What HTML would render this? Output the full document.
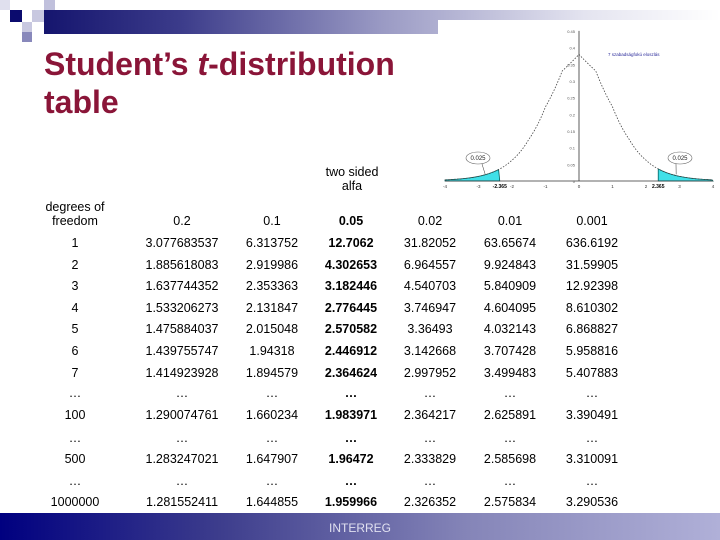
<!DOCTYPE html>
<html><head><meta charset="utf-8"><style>
body{margin:0;width:720px;height:540px;position:relative;overflow:hidden;background:#fff;font-family:"Liberation Sans",Arial,sans-serif}
.c{position:absolute;font-size:12.5px;line-height:14px;color:#000;transform:translate(-50%,-50%);white-space:nowrap;text-align:center}
.b{font-weight:bold}
.sq{position:absolute}
</style></head><body>
<div style="position:absolute;left:44px;top:10px;width:676px;height:24px;background:linear-gradient(90deg,#15156e 0%,#3b3b8a 20%,#9a9ac4 50%,#e4e4f0 80%,#fff 100%)"></div>
<div class="sq" style="left:10px;top:10px;width:12px;height:12px;background:#0b0b6e"></div>
<div class="sq" style="left:32px;top:10px;width:12px;height:12px;background:#c8c8e0"></div>
<div class="sq" style="left:44px;top:0px;width:11px;height:10px;background:#c0c0dc"></div>
<div class="sq" style="left:0px;top:0px;width:10px;height:10px;background:#e0e0ee"></div>
<div class="sq" style="left:22px;top:22px;width:10px;height:10px;background:#c8c8e0"></div>
<div class="sq" style="left:22px;top:32px;width:10px;height:10px;background:#8888bb"></div>
<div style="position:absolute;left:44px;top:45px;font-size:32px;font-weight:bold;color:#8a1538;line-height:38px">Student’s <i>t</i>-distribution<br>table</div>

<svg id="chart" style="position:absolute;left:0;top:0" width="720" height="540"></svg>

<div id="tbl"></div>
<div style="position:absolute;left:0;top:513px;width:720px;height:27px;background:linear-gradient(90deg,#000080 0%,#3c3c8c 30%,#8585b8 65%,#b0b0d8 100%)"></div>
<div style="position:absolute;left:329px;top:521px;font-size:12px;color:#e0e0f0">INTERREG</div>

<script>
const xs=[-4,-3.5,-3,-2.5,-2,-1.5,-1,-0.5,0,0.5,1,1.5,2,2.5,3,3.5,4];
const dens=[0.0033,0.0066,0.0139,0.0296,0.0623,0.1245,0.2225,0.330,0.3796,0.330,0.2225,0.1245,0.0623,0.0296,0.0139,0.0066,0.0033];
const crit=2.365;
const tailLabel="0.025";
const yTicks=[0,0.05,0.1,0.15,0.2,0.25,0.3,0.35,0.4,0.45];
const xTicks=[-4,-3,-2,-1,0,1,2,3,4];
const NS='http://www.w3.org/2000/svg';
const svg=document.getElementById('chart');
const X=v=>579+v*33.5, Y=v=>181-v*333.5;
function mk(t,a,p){const e=document.createElementNS(NS,t);for(const k in a)e.setAttribute(k,a[k]);(p||svg).appendChild(e);return e;}
const bg=mk('rect',{x:438,y:20,width:282,height:172,fill:'#fff'});


function interp(v){for(let i=0;i<xs.length-1;i++){if(v>=xs[i]&&v<=xs[i+1]){const t=(v-xs[i])/(xs[i+1]-xs[i]);return dens[i]*Math.pow(dens[i+1]/dens[i],t);}}return dens[dens.length-1];}
function tail(a,b){let d=`M${X(a)},${Y(0)}`;for(let v=a;v<=b+1e-9;v+=0.05)d+=` L${X(v)},${Y(interp(v))}`;d+=` L${X(b)},${Y(0)}Z`;return d;}
const lt=mk('path',{d:tail(-4,-crit),fill:'#40e0e8',stroke:'#006060','stroke-width':0.8});


const rt=mk('path',{d:tail(crit,4),fill:'#40e0e8',stroke:'#006060','stroke-width':0.8});


let d='';for(let v=-4;v<=4.0001;v+=0.05)d+=(d?' L':'M')+X(v)+','+Y(interp(v));
const cur=mk('path',{d:d,fill:'none',stroke:'#444','stroke-width':0.8,'stroke-dasharray':'1.5,1.5'});


const xa=mk('line',{x1:X(-4),x2:X(4),y1:Y(0),y2:Y(0),stroke:'#333','stroke-width':0.8});


const ya=mk('line',{x1:X(0),x2:X(0),y1:Y(0),y2:Y(0.45),stroke:'#333','stroke-width':0.8});


yTicks.forEach(v=>{const t=mk('text',{x:X(0)-4,y:Y(v)+2,'font-size':4,'text-anchor':'end',fill:'#555'});t.textContent=v;

});
xTicks.forEach(v=>{const t=mk('text',{x:X(v),y:Y(0)+7,'font-size':4.5,'text-anchor':'middle',fill:'#333'});t.textContent=v;

});
[-crit,crit].forEach(v=>{const t=mk('text',{x:X(v),y:Y(0)+7,'font-size':5,'text-anchor':'middle',fill:'#000','font-weight':'bold'});t.textContent=v<0?'-2.365':'2.365';

});
[[-3.2,478],[3.2,680]].forEach(p=>{const e=mk('ellipse',{cx:p[1],cy:158,rx:12,ry:6,fill:'#fff',stroke:'#666','stroke-width':0.6});


mk('line',{x1:p[1]+(p[0]<0?4:-4),y1:164,x2:X(p[0]<0?-2.8:2.9),y2:Y(0.02),stroke:'#333','stroke-width':0.5});
const t=mk('text',{x:p[1],y:160,'font-size':6,'text-anchor':'middle',fill:'#222'});t.textContent=tailLabel;

});
const ti=mk('text',{x:608,y:56,'font-size':4.5,fill:'#2a2a9a'});ti.textContent='7 szabadságfokú eloszlás';



const colX=[75,182,272,351,430,510,592];
const rowY=[243,265,286,308,329,351,373,393,415,438,459,481,502];
const rows=[
["1","3.077683537","6.313752","12.7062","31.82052","63.65674","636.6192"],
["2","1.885618083","2.919986","4.302653","6.964557","9.924843","31.59905"],
["3","1.637744352","2.353363","3.182446","4.540703","5.840909","12.92398"],
["4","1.533206273","2.131847","2.776445","3.746947","4.604095","8.610302"],
["5","1.475884037","2.015048","2.570582","3.36493","4.032143","6.868827"],
["6","1.439755747","1.94318","2.446912","3.142668","3.707428","5.958816"],
["7","1.414923928","1.894579","2.364624","2.997952","3.499483","5.407883"],
["…","…","…","…","…","…","…"],
["100","1.290074761","1.660234","1.983971","2.364217","2.625891","3.390491"],
["…","…","…","…","…","…","…"],
["500","1.283247021","1.647907","1.96472","2.333829","2.585698","3.310091"],
["…","…","…","…","…","…","…"],
["1000000","1.281552411","1.644855","1.959966","2.326352","2.575834","3.290536"]];
const heads=["0.2","0.1","0.05","0.02","0.01","0.001"];
const tb=document.getElementById('tbl');
function cell(txt,x,y,bold,name){const e=document.createElement('div');e.className='c'+(bold?' b':'');e.style.left=x+'px';e.style.top=y+'px';e.innerHTML=txt;


tb.appendChild(e);}
cell('two sided<br>alfa',352,179,false,'alpha-header');
cell('degrees of<br>freedom',75,214,false,'df-header');
heads.forEach((h,i)=>cell(h,colX[i+1],221,i==2,'alpha-column-header'));
rows.forEach((r,ri)=>r.forEach((v,ci)=>cell(v,colX[ci],rowY[ri],ci==3,'table-cell')));
</script>
</body></html>
